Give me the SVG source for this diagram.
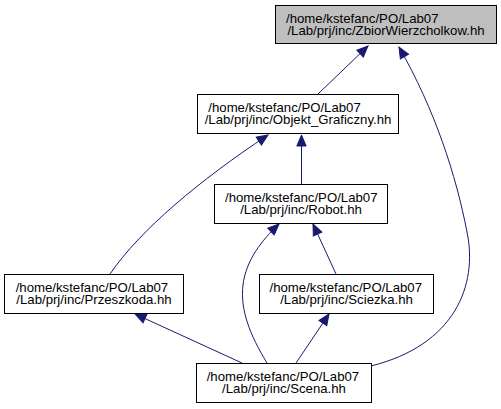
<svg xmlns="http://www.w3.org/2000/svg" width="501" height="409" viewBox="0 0 501 409">
<defs>
<style>
.box{fill:#ffffff;stroke:#000000;stroke-width:1}
.root{fill:#bfbfbf}
text{font-family:"Liberation Sans",Arial,Helvetica,sans-serif;font-size:13.2px;fill:#000000}
.c{text-anchor:middle}
.edge{fill:none;stroke:#191970;stroke-width:1;marker-end:url(#arr)}
</style>
<marker id="arr" viewBox="-12 -6 13 12" refX="0" refY="0" markerWidth="13" markerHeight="12" orient="auto" markerUnits="userSpaceOnUse">
<path d="M0,0 L-11,-4.7 L-11,4.7 z" fill="#191970" stroke="#191970" stroke-width="1"/>
</marker>
</defs>
<rect width="501" height="409" fill="#ffffff"/>
<g id="edges">
<path class="edge" d="M318,94 L368,46"/>
<path class="edge" d="M371,366 C455,345 478,285 467,232 C456,175 435,110 399,47"/>
<path class="edge" d="M301.5,184 L301.5,135"/>
<path class="edge" d="M110,274 C140,230 200,180 268,135"/>
<path class="edge" d="M242,363 L135,314"/>
<path class="edge" d="M267,363 C250,335 240,310 243,285 C246,260 262,240 279,224"/>
<path class="edge" d="M296,363 L329,314"/>
<path class="edge" d="M336,274 L313,224"/>
</g>
<g id="node-zbior">
<rect class="box root" x="275.5" y="5.5" width="221" height="38"/>
<text x="286" y="22.7">/home/kstefanc/PO/Lab07</text>
<text class="c" x="386" y="35">/Lab/prj/inc/ZbiorWierzcholkow.hh</text>
</g>
<g id="node-objekt">
<rect class="box" x="197.5" y="94.5" width="201" height="39"/>
<text x="208.3" y="111.7">/home/kstefanc/PO/Lab07</text>
<text class="c" x="298" y="124">/Lab/prj/inc/Objekt_Graficzny.hh</text>
</g>
<g id="node-robot">
<rect class="box" x="214.5" y="184.5" width="173" height="39"/>
<text x="225" y="201.7">/home/kstefanc/PO/Lab07</text>
<text class="c" x="301" y="214">/Lab/prj/inc/Robot.hh</text>
</g>
<g id="node-przeszkoda">
<rect class="box" x="4.5" y="274.5" width="179" height="39"/>
<text x="15.7" y="291.7">/home/kstefanc/PO/Lab07</text>
<text class="c" x="94" y="304">/Lab/prj/inc/Przeszkoda.hh</text>
</g>
<g id="node-sciezka">
<rect class="box" x="259.5" y="274.5" width="174" height="39"/>
<text x="269.5" y="291.7">/home/kstefanc/PO/Lab07</text>
<text class="c" x="346.5" y="304">/Lab/prj/inc/Sciezka.hh</text>
</g>
<g id="node-scena">
<rect class="box" x="196.5" y="363.5" width="175" height="39"/>
<text x="206.7" y="380.7">/home/kstefanc/PO/Lab07</text>
<text class="c" x="284" y="393">/Lab/prj/inc/Scena.hh</text>
</g>
</svg>
